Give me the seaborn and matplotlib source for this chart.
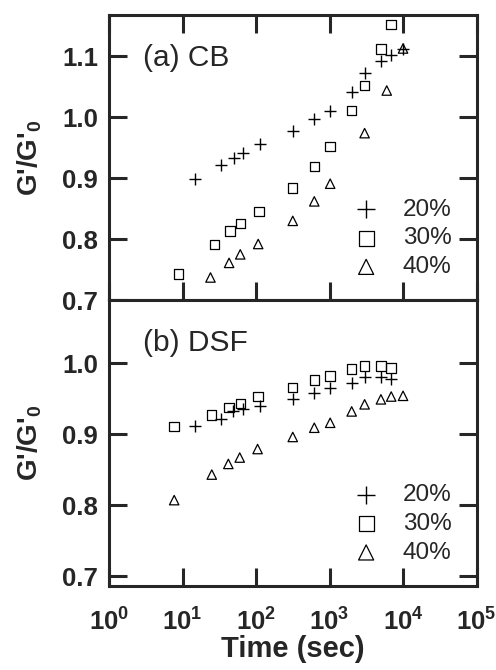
import pandas as pd
import matplotlib
matplotlib.use("Agg")
import matplotlib.pyplot as plt
import seaborn as sns

# ---------------------------------------------------------
# Data: time (sec) and G'/G'0
# ---------------------------------------------------------
# (a) CB
cb_t20 = [15, 33, 50, 66, 115, 316, 620, 1020, 2000, 3000, 5000, 6900, 10000]
cb_g20 = [0.898, 0.921, 0.934, 0.942, 0.956, 0.977, 0.997, 1.011, 1.041, 1.073, 1.092, 1.103, 1.113]
cb_t30 = [8.8, 27, 44, 62, 110, 316, 620, 1020, 2000, 3000, 5000, 6900]
cb_g30 = [0.743, 0.791, 0.813, 0.826, 0.845, 0.884, 0.919, 0.952, 1.011, 1.052, 1.112, 1.152]
cb_t40 = [24, 43, 61, 107, 316, 620, 1020, 3000, 6000, 10000]
cb_g40 = [0.737, 0.761, 0.775, 0.792, 0.830, 0.862, 0.891, 0.974, 1.044, 1.113]

# (b) DSF
dsf_t20 = [14.7, 33, 48, 66, 115, 316, 620, 1020, 2000, 3000, 5000, 6900]
dsf_g20 = [0.912, 0.922, 0.932, 0.936, 0.940, 0.950, 0.958, 0.965, 0.972, 0.980, 0.981, 0.978]
dsf_t30 = [7.7, 25, 43, 61, 107, 316, 620, 1020, 2000, 3000, 5000, 6900]
dsf_g30 = [0.911, 0.927, 0.9375, 0.943, 0.953, 0.966, 0.9765, 0.982, 0.992, 0.996, 0.996, 0.993]
dsf_t40 = [7.7, 25, 42, 60, 105, 316, 620, 1020, 2000, 3000, 5000, 6900, 10000]
dsf_g40 = [0.807, 0.843, 0.858, 0.867, 0.879, 0.896, 0.909, 0.916, 0.932, 0.942, 0.949, 0.953, 0.954]

concs = ["20%", "30%", "40%"]
markers = {"20%": "+", "30%": "s", "40%": "^"}
sizes = {"20%": 64, "30%": 46, "40%": 46}

panels = {
    "(a) CB": [(cb_t20, cb_g20), (cb_t30, cb_g30), (cb_t40, cb_g40)],
    "(b) DSF": [(dsf_t20, dsf_g20), (dsf_t30, dsf_g30), (dsf_t40, dsf_g40)],
}
ylims = {"(a) CB": (0.7, 1.168), "(b) DSF": (0.686, 1.089)}
yticks = {"(a) CB": [0.7, 0.8, 0.9, 1.0, 1.1], "(b) DSF": [0.7, 0.8, 0.9, 1.0]}

rows = []
for panel, series in panels.items():
    for conc, (t, g) in zip(concs, series):
        for ti, gi in zip(t, g):
            rows.append({"panel": panel, "conc": conc, "time": ti, "ratio": gi})
df = pd.DataFrame(rows)

# ---------------------------------------------------------
# Plot
# ---------------------------------------------------------
sns.set_style("ticks")
plt.rcParams["font.family"] = ["Liberation Sans", "DejaVu Sans"]
plt.rcParams["font.weight"] = "bold"
plt.rcParams["mathtext.fontset"] = "custom"
plt.rcParams["mathtext.rm"] = "Liberation Sans:bold"
plt.rcParams["mathtext.it"] = "Liberation Sans:bold"
plt.rcParams["mathtext.bf"] = "Liberation Sans:bold"
plt.rcParams["mathtext.default"] = "rm"

fig = plt.figure(figsize=(4.96, 6.70), dpi=100)
ax_top = fig.add_axes([0.2198, 0.5522, 0.741, 0.4254])
ax_bot = fig.add_axes([0.2198, 0.1254, 0.741, 0.4268])

for ax, (panel, sub) in zip([ax_top, ax_bot], df.groupby("panel", sort=True)):
    for conc in concs:
        d = sub[sub["conc"] == conc]
        if markers[conc] == "+":
            sns.scatterplot(data=d, x="time", y="ratio", ax=ax, marker="+",
                            s=sizes[conc], color="k", linewidth=1.0, label=conc)
        else:
            sns.scatterplot(data=d, x="time", y="ratio", ax=ax, marker=markers[conc],
                            s=sizes[conc], color="k", facecolors="none",
                            edgecolor="k", linewidth=0.9, label=conc)
    ax.set_xscale("log")
    ax.set_xlim(1, 1e5)
    ax.set_ylim(*ylims[panel])
    ax.set_yticks(yticks[panel])
    ax.set_yticklabels([f"{v:.1f}" for v in yticks[panel]])
    ax.set_xticks([1, 10, 100, 1000, 1e4, 1e5])
    ax.minorticks_off()
    ax.tick_params(direction="in", length=13, width=2.2, labelsize=18.5,
                   right=True, pad=8)
    for sp in ax.spines.values():
        sp.set_linewidth(2.2)
    ax.set_ylabel("G'/G'$_0$", fontsize=20, fontweight="bold")
    ax.yaxis.set_label_coords(-0.178, 0.5)
    ax.text(0.093, 0.85, panel, transform=ax.transAxes, fontsize=21.5,
            fontweight="normal", va="center", ha="left")
    ax.legend(loc="upper left", bbox_to_anchor=(0.607, 0.39), frameon=False,
              markerscale=1.6, handletextpad=0.5, labelspacing=0.28,
              prop={"weight": "normal", "size": 17.5}, borderaxespad=0)

ax_top.tick_params(top=True, labelbottom=False)
ax_top.set_xlabel("")
ax_bot.tick_params(top=False)
ax_bot.tick_params(axis="x", pad=16)
ax_bot.set_xticklabels([f"$10^{{{i}}}$" for i in range(6)])
ax_bot.set_xlabel("Time (sec)", fontsize=21, fontweight="bold", labelpad=0)

fig.savefig("out.png", dpi=100)
plt.close(fig)
